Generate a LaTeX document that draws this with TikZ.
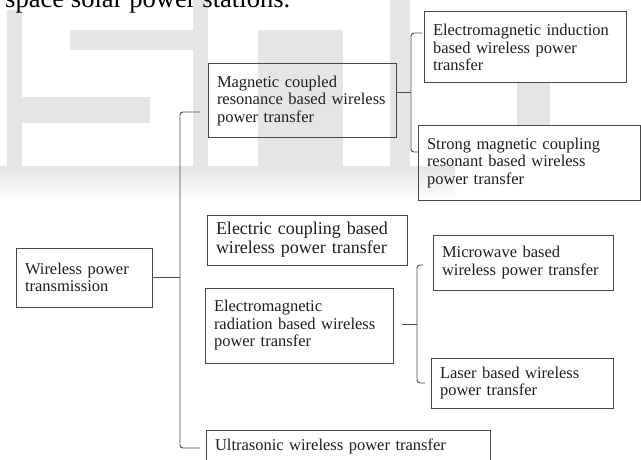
\documentclass[tikz,border=0pt]{standalone}
\usepackage{fontspec}
\setmainfont{Liberation Serif}
\usepackage{xcolor}
\usepackage{tikz}
\usetikzlibrary{positioning}
\definecolor{wmark}{gray}{0.9}

\begin{document}
\begin{tikzpicture}[x=1pt,y=1pt,
    box/.style={draw=black!72,line width=1pt,outer sep=0pt,inner xsep=9pt,inner ysep=0pt,
                align=left,text=black!88,font=\fontsize{16.5}{17.5}\selectfont},
    brace/.style={draw=black!70,line width=0.9pt,rounded corners=3pt}]
    \useasboundingbox (0,0) rectangle (641,459);

    % watermark behind the chart
    \fill[wmark] (7,449) rectangle (22,269);
    \fill[wmark] (70,429) rectangle (193,409);
    \fill[wmark] (193,459) rectangle (208,292);
    \fill[wmark] (7,362) rectangle (150,336);
    \shade[top color=wmark,bottom color=white] (0,292) rectangle (455,258);
    \fill[wmark] (258,429) rectangle (343,292);
    \fill[wmark] (390,459) rectangle (410,292);
    \fill[wmark] (517,376) rectangle (550,334);

    \node[anchor=base west,inner sep=0pt] (caption) at (5,451)
        {\fontsize{26.6}{30}\selectfont space solar power stations.};

    \node[box,text width=118pt,minimum height=59pt] (wpt) at (84,181.5) {Wireless power\\transmission};
    \node[box,text width=170pt,minimum height=74pt] (mcr) [right=56pt of wpt, yshift=176.5pt]
        {Magnetic coupled\\resonance based wireless\\power transfer};
    \node[box,text width=182pt,minimum height=50pt,font=\fontsize{18}{19}\selectfont] (ecb)
        [below=77pt of mcr, xshift=5pt] {Electric coupling based\\wireless power transfer};
    \node[box,text width=170pt,minimum height=75pt] (emr) [below=23pt of ecb, xshift=-8pt]
        {Electromagnetic\\radiation based wireless\\power transfer};
    \node[box,text width=266pt,minimum height=32pt] (usn) [below=67pt of emr, xshift=49pt]
        {Ultrasonic wireless power transfer};
    \node[box,text width=184pt,minimum height=71pt] (emi) [right=28pt of mcr, yshift=53.5pt]
        {Electromagnetic induction\\based wireless power\\transfer};
    \node[box,text width=204pt,minimum height=74pt] (smc) [right=22pt of mcr, yshift=-62pt]
        {Strong magnetic coupling\\resonant based wireless\\power transfer};
    \node[box,text width=162pt,minimum height=55pt] (mwv) [right=40pt of emr, yshift=63pt]
        {Microwave based\\wireless power transfer};
    \node[box,text width=164pt,minimum height=50pt] (lsr) [right=38pt of emr, yshift=-57.5pt]
        {Laser based wireless\\power transfer};

    \coordinate (spine) at ([xshift=28pt]wpt.east);
    \coordinate (mspine) at ([xshift=15pt,yshift=9pt]mcr.east);
    \coordinate (rspine) at ([xshift=24pt,yshift=1.5pt]emr.east);

    \draw[brace] ([xshift=-8pt,yshift=-11pt]mcr.west) -| (spine) |- ([xshift=-6pt,yshift=-2pt]usn.west);
    \draw[brace] (wpt.east) -- (spine);
    \draw[brace] ([xshift=-2pt,yshift=14.5pt]emi.west) -| (mspine) |- ([yshift=11pt]smc.west);
    \draw[brace] ([yshift=9pt]mcr.east) -- (mspine);
    \draw[brace] ([xshift=-10pt,yshift=-2.5pt]mwv.west) -| (rspine) |- ([xshift=-6pt]lsr.west);
    \draw[brace] ([xshift=9pt,yshift=1.5pt]emr.east) -- (rspine);
\end{tikzpicture}
\end{document}
